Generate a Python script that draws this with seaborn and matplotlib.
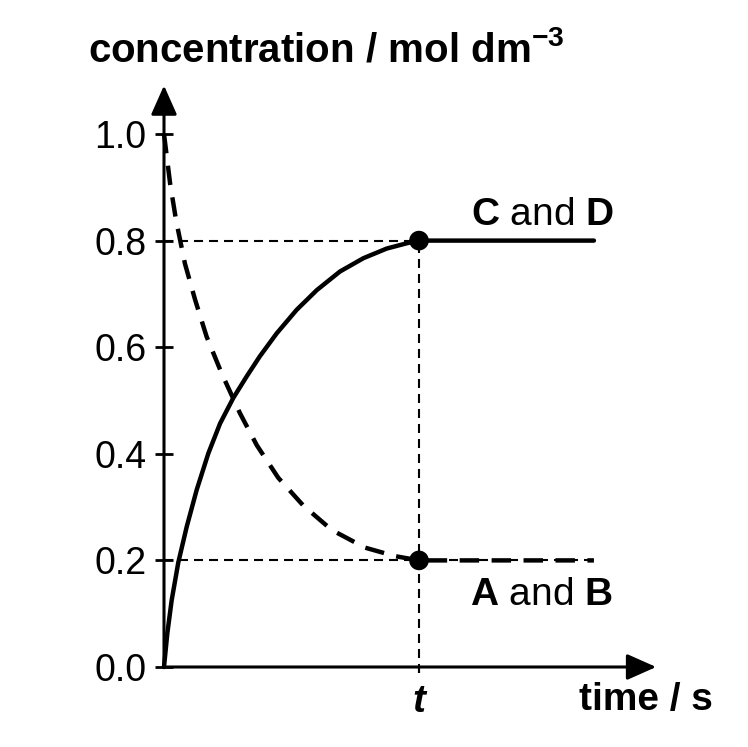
import matplotlib
matplotlib.use("Agg")
import matplotlib.pyplot as plt
import seaborn as sns
import pandas as pd

# ---- data ----
t_mark = 1.0            # time "t" (arbitrary units, axis has only this tick)
t_end = 1.686           # end of plotted curves
x_max = 1.93
y_max = 1.091

time_cd = [0.0, 0.013, 0.030, 0.056, 0.089, 0.128, 0.174, 0.220, 0.272, 0.324,
           0.376, 0.442, 0.520, 0.599, 0.690, 0.782, 0.873, 0.952, 1.0, 1.686]
conc_cd = [0.0, 0.063, 0.125, 0.196, 0.263, 0.332, 0.401, 0.457, 0.505, 0.545,
           0.583, 0.626, 0.670, 0.707, 0.742, 0.767, 0.785, 0.795, 0.800, 0.800]

time_ab = [0.0, 0.024, 0.047, 0.082, 0.122, 0.167, 0.226, 0.298, 0.364, 0.448,
           0.546, 0.658, 0.788, 0.906, 1.0, 1.686]
conc_ab = [1.0, 0.907, 0.839, 0.757, 0.689, 0.620, 0.551, 0.476, 0.416, 0.355,
           0.303, 0.257, 0.224, 0.208, 0.200, 0.200]

y_ticks = [0.0, 0.2, 0.4, 0.6, 0.8, 1.0]
y_tick_labels = ["0.0", "0.2", "0.4", "0.6", "0.8", "1.0"]
x_tick_labels = ["t"]
eq_conc = [0.8, 0.2]
labels = [r"$\mathbf{C}$ and $\mathbf{D}$", r"$\mathbf{A}$ and $\mathbf{B}$"]

sns.set_theme(style="white")
plt.rcParams["font.family"] = ["Liberation Sans", "DejaVu Sans"]
plt.rcParams["mathtext.fontset"] = "custom"
plt.rcParams["mathtext.rm"] = "Liberation Sans"
plt.rcParams["mathtext.bf"] = "Liberation Sans:bold"
plt.rcParams["mathtext.it"] = "Liberation Sans:italic"
plt.rcParams["mathtext.default"] = "regular"
plt.rcParams["lines.scale_dashes"] = False
for k in ("text.color", "axes.labelcolor", "xtick.color", "ytick.color"):
    plt.rcParams[k] = "black"

W, H = 748, 747
fig = plt.figure(figsize=(W / 100, H / 100), dpi=100)
x0_px, y0_px = 164, 667
px_per_x, px_per_y = 255, 533
ax = fig.add_axes([x0_px / W, (H - y0_px) / H,
                   x_max * px_per_x / W, y_max * px_per_y / H])
ax.set_xlim(0, x_max)
ax.set_ylim(0, y_max)
for s in ax.spines.values():
    s.set_visible(False)
ax.set_facecolor("none")

# guide lines (thin dashed)
guide = dict(color="black", lw=1.5, zorder=1, clip_on=False)
l1, = ax.plot([0, t_mark], [eq_conc[0]] * 2, **guide)
l2, = ax.plot([0, t_end], [eq_conc[1]] * 2, **guide)
l3, = ax.plot([t_mark, t_mark], [-0.012, eq_conc[0]], **guide)
for ln in (l1, l2, l3):
    ln.set_dashes((6.5, 4.3))

# curves
df_cd = pd.DataFrame({"time": time_cd, "conc": conc_cd})
df_ab = pd.DataFrame({"time": time_ab, "conc": conc_ab})
sns.lineplot(data=df_cd, x="time", y="conc", ax=ax, color="black", lw=3.2,
             sort=False, estimator=None, zorder=2, clip_on=False)
sns.lineplot(data=df_ab, x="time", y="conc", ax=ax, color="black", lw=3.2,
             sort=False, estimator=None, zorder=2, clip_on=False)
ax.lines[-1].set_dashes((14, 9))
ax.lines[-1].set_solid_capstyle("butt")

# equilibrium dots
sns.scatterplot(x=[t_mark, t_mark], y=eq_conc, ax=ax, color="black", s=200,
                edgecolor="none", zorder=3, clip_on=False)

# axes arrows
arrow = dict(arrowstyle="-|>,head_length=0.9,head_width=0.4", color="black",
             lw=2.2, mutation_scale=20, shrinkA=0, shrinkB=0)
ax.annotate("", xy=(0, y_max), xytext=(0, 0), arrowprops=arrow,
            annotation_clip=False)
ax.annotate("", xy=(x_max, 0), xytext=(0, 0), arrowprops=arrow,
            annotation_clip=False)

# ticks
ax.set_yticks(y_ticks)
ax.set_yticklabels(y_tick_labels, fontsize=27)
ax.tick_params(axis="y", direction="inout", length=13, width=2, pad=6,
               colors="black", left=True)
ax.set_xticks([t_mark])
ax.set_xticklabels(x_tick_labels, fontsize=28, fontweight="bold",
                   fontstyle="italic")
ax.tick_params(axis="x", direction="out", length=4, width=1.5, pad=8,
               colors="black", bottom=True)
ax.set_xlabel("")
ax.set_ylabel("")
ax.grid(False)

# text labels
fig.text(471 / W, 1 - 225 / H, labels[0], fontsize=28, ha="left", va="baseline")
fig.text(470 / W, 1 - 605 / H, labels[1], fontsize=28, ha="left", va="baseline")

fig.text(88 / W, 1 - 62 / H, r"concentration / mol dm$^{-3}$", fontsize=29,
         fontweight="bold", ha="left", va="baseline")
fig.text(713 / W, 1 - 710 / H, "time / s", fontsize=28, fontweight="bold",
         ha="right", va="baseline")

fig.savefig("out.png", dpi=100, facecolor="white")
